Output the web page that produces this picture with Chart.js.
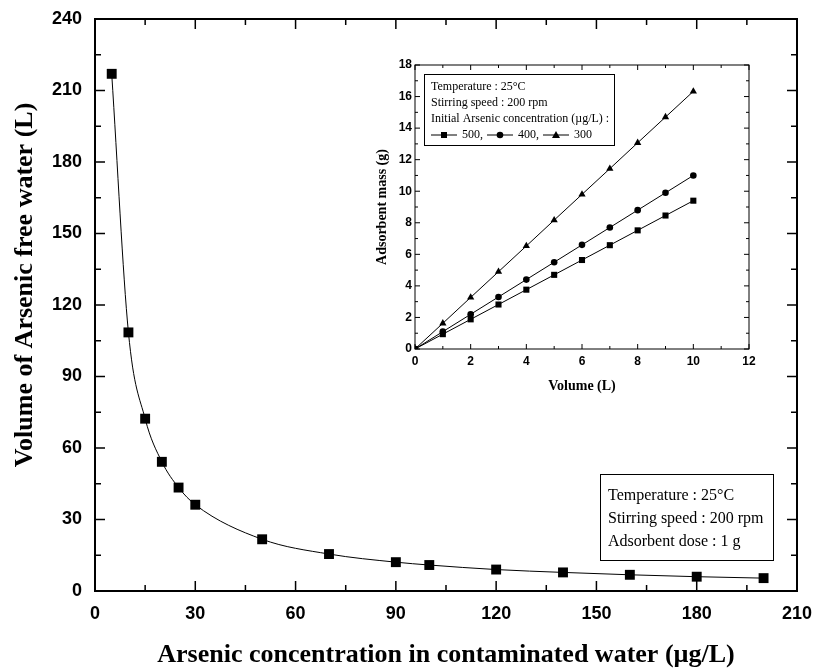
<!DOCTYPE html>
<html>
<head>
<meta charset="utf-8">
<script src="https://cdn.jsdelivr.net/npm/chart.js@4/dist/chart.umd.min.js"></script>
<style>
  body { margin: 0; background: #fff; }
  #wrap { position: relative; width: 814px; height: 668px; }
  #mainChart { position: absolute; left: 0; top: 0; }
  #insetChart { position: absolute; left: 340px; top: 40px; }
</style>
</head>
<body>
<div id="wrap">
  <canvas id="mainChart" width="814" height="668"></canvas>
  <canvas id="insetChart" width="440" height="370"></canvas>
</div>
<script>
// main plot: arsenic free water obtained per gram of adsorbent
const concentration = [5, 10, 15, 20, 25, 30, 50, 70, 90, 100, 120, 140, 160, 180, 200];
const freeWater = [217, 108.5, 72.3, 54.2, 43.4, 36.2, 21.7, 15.5, 12.1, 10.9, 9.0, 7.8, 6.8, 6.0, 5.4];

// inset: adsorbent mass needed vs treated volume
const volume = [0, 1, 2, 3, 4, 5, 6, 7, 8, 9, 10];
const mass500 = [0, 0.94, 1.88, 2.82, 3.76, 4.70, 5.64, 6.58, 7.52, 8.46, 9.40];
const mass400 = [0, 1.10, 2.20, 3.30, 4.40, 5.50, 6.60, 7.70, 8.80, 9.90, 11.0];
const mass300 = [0, 1.63, 3.27, 4.90, 6.53, 8.17, 9.80, 11.43, 13.07, 14.70, 16.33];

const mainXTicks = [0, 30, 60, 90, 120, 150, 180, 210];
const mainYTicks = [0, 30, 60, 90, 120, 150, 180, 210, 240];
const insetXTicks = [0, 2, 4, 6, 8, 10, 12];
const insetYTicks = [0, 2, 4, 6, 8, 10, 12, 14, 16, 18];

const mainXTitle = 'Arsenic concentration in contaminated water (µg/L)';
const mainYTitle = 'Volume of Arsenic free water (L)';
const mainNotes = ['Temperature : 25°C', 'Stirring speed : 200 rpm', 'Adsorbent dose : 1 g'];
const insetNotes = ['Temperature : 25°C', 'Stirring speed : 200 rpm', 'Initial Arsenic concentration (µg/L) :'];
const insetSeriesLabels = ['500,', '400,', '300'];
const insetSeriesStyles = ['rect', 'circle', 'triangle'];

const SANS = '"Liberation Sans", Arial, sans-serif';
const SERIF = '"Liberation Serif", "Times New Roman", serif';

function tickFont(size) {
    return { family: SANS, size: size, weight: 'bold' };
}

function titleFont(size) {
    return { family: SERIF, size: size, weight: 'bold', lineHeight: 1 };
}

function fixedTicks(values) {
    return (scale) => { scale.ticks = values.map(v => ({ value: v })); };
}

// pin the axis box size and drop the label overflow padding so the layout padding alone sets the plot area
function fixedSize(prop, size) {
    return (scale) => {
        scale[prop] = size;
        scale.paddingLeft = scale.paddingRight = scale.paddingTop = scale.paddingBottom = 0;
    };
}

// boxed frame with inward ticks on all four sides, majors longer than minors
function frameAndTicks(opts) {
    return {
        id: 'frameAndTicks',
        beforeDatasetsDraw(chart) {
            const { ctx, chartArea: a, scales: { x, y } } = chart;
            const isMajor = (v, step) => Math.abs(v / step - Math.round(v / step)) < 1e-6;
            ctx.save();
            ctx.strokeStyle = '#000';
            ctx.lineWidth = opts.tickWidth;
            ctx.beginPath();
            for (let v = x.min; v <= x.max + 1e-9; v += opts.xMinor) {
                const px = x.getPixelForValue(v);
                const len = isMajor(v, opts.xMajor) ? opts.majorLen : opts.minorLen;
                ctx.moveTo(px, a.bottom);
                ctx.lineTo(px, a.bottom - len);
                ctx.moveTo(px, a.top);
                ctx.lineTo(px, a.top + len);
            }
            for (let v = y.min; v <= y.max + 1e-9; v += opts.yMinor) {
                const py = y.getPixelForValue(v);
                const len = isMajor(v, opts.yMajor) ? opts.majorLen : opts.minorLen;
                ctx.moveTo(a.left, py);
                ctx.lineTo(a.left + len, py);
                ctx.moveTo(a.right, py);
                ctx.lineTo(a.right - len, py);
            }
            ctx.stroke();
            ctx.lineWidth = opts.frameWidth;
            ctx.strokeRect(a.left, a.top, a.right - a.left, a.bottom - a.top);
            ctx.restore();
        }
    };
}

// y title sits a little above the middle of the axis
const mainYTitleText = {
    id: 'mainYTitleText',
    afterDraw(chart) {
        const ctx = chart.ctx;
        ctx.save();
        ctx.translate(25, 285);
        ctx.rotate(-Math.PI / 2);
        ctx.fillStyle = '#000';
        ctx.font = 'bold 26px ' + SERIF;
        ctx.textAlign = 'center';
        ctx.textBaseline = 'middle';
        ctx.fillText(mainYTitle, 0, 0);
        ctx.restore();
    }
};

const mainNotesBox = {
    id: 'mainNotesBox',
    afterDraw(chart) {
        const ctx = chart.ctx;
        ctx.save();
        ctx.fillStyle = '#fff';
        ctx.fillRect(600, 474, 173, 86);
        ctx.strokeStyle = '#000';
        ctx.lineWidth = 1;
        ctx.strokeRect(600.5, 474.5, 173, 86);
        ctx.fillStyle = '#000';
        ctx.font = '16px ' + SERIF;
        ctx.textBaseline = 'middle';
        mainNotes.forEach((line, i) => ctx.fillText(line, 608, 496 + i * 23));
        ctx.restore();
    }
};

function drawMarker(ctx, style, x, y) {
    ctx.beginPath();
    if (style === 'rect') {
        ctx.rect(x - 3, y - 3, 6, 6);
    } else if (style === 'circle') {
        ctx.arc(x, y, 3.3, 0, Math.PI * 2);
    } else {
        ctx.moveTo(x, y - 4);
        ctx.lineTo(x + 4, y + 3);
        ctx.lineTo(x - 4, y + 3);
        ctx.closePath();
    }
    ctx.fill();
}

const insetNotesBox = {
    id: 'insetNotesBox',
    afterDraw(chart) {
        const ctx = chart.ctx;
        ctx.save();
        ctx.fillStyle = '#fff';
        ctx.fillRect(84, 34, 190, 71);
        ctx.strokeStyle = '#000';
        ctx.lineWidth = 1;
        ctx.strokeRect(84.5, 34.5, 190, 71);
        ctx.fillStyle = '#000';
        ctx.font = '12px ' + SERIF;
        ctx.textBaseline = 'middle';
        insetNotes.forEach((line, i) => ctx.fillText(line, 91, 47 + i * 16));

        // series key row: line-marker-line then label
        let x = 91;
        const rowY = 95;
        insetSeriesLabels.forEach((label, i) => {
            ctx.beginPath();
            ctx.moveTo(x, rowY);
            ctx.lineTo(x + 26, rowY);
            ctx.stroke();
            drawMarker(ctx, insetSeriesStyles[i], x + 13, rowY);
            ctx.fillText(label, x + 31, rowY);
            x += 31 + ctx.measureText(label).width + 4;
        });
        ctx.restore();
    }
};

const noGrid = { display: false, drawTicks: false };

new Chart(document.getElementById('mainChart'), {
    type: 'line',
    data: {
        datasets: [{
            data: concentration.map((c, i) => ({ x: c, y: freeWater[i] })),
            borderColor: '#000',
            borderWidth: 1,
            cubicInterpolationMode: 'monotone',
            pointStyle: 'rect',
            pointRadius: 7,
            pointBackgroundColor: '#000',
            pointBorderColor: '#000',
            pointBorderWidth: 0
        }]
    },
    options: {
        responsive: false,
        animation: false,
        layout: { padding: { top: 19, right: 17, left: 0, bottom: 0 } },
        plugins: { legend: { display: false }, tooltip: { enabled: false } },
        scales: {
            x: {
                type: 'linear', min: 0, max: 210,
                afterBuildTicks: fixedTicks(mainXTicks),
                afterFit: fixedSize('height', 77),
                grid: noGrid,
                border: { display: false },
                ticks: { color: '#000', font: tickFont(18), padding: 12, maxRotation: 0 },
                title: {
                    display: true, text: mainXTitle,
                    color: '#000', font: titleFont(26), padding: { top: 0, bottom: 0 }
                }
            },
            y: {
                type: 'linear', min: 0, max: 240,
                afterBuildTicks: fixedTicks(mainYTicks),
                afterFit: fixedSize('width', 95),
                grid: noGrid,
                border: { display: false },
                ticks: { color: '#000', font: tickFont(18), padding: 13 }
            }
        }
    },
    plugins: [
        frameAndTicks({ xMajor: 30, xMinor: 15, yMajor: 30, yMinor: 15, majorLen: 10, minorLen: 6, tickWidth: 1.5, frameWidth: 2 }),
        mainYTitleText,
        mainNotesBox
    ]
});

function insetSeries(values, style, radius) {
    return {
        data: volume.map((v, i) => ({ x: v, y: values[i] })),
        borderColor: '#000',
        borderWidth: 1,
        pointStyle: style,
        pointRadius: radius,
        pointBackgroundColor: '#000',
        pointBorderColor: '#000',
        pointBorderWidth: 0
    };
}

new Chart(document.getElementById('insetChart'), {
    type: 'line',
    data: {
        datasets: [
            insetSeries(mass500, 'rect', 4.3),
            insetSeries(mass400, 'circle', 3.3),
            insetSeries(mass300, 'triangle', 4.2)
        ]
    },
    options: {
        responsive: false,
        animation: false,
        layout: { padding: { top: 25, right: 31, left: 0, bottom: 0 } },
        plugins: { legend: { display: false }, tooltip: { enabled: false } },
        scales: {
            x: {
                type: 'linear', min: 0, max: 12,
                afterBuildTicks: fixedTicks(insetXTicks),
                afterFit: fixedSize('height', 61),
                grid: noGrid,
                border: { display: false },
                ticks: { color: '#000', font: tickFont(12), padding: 5, maxRotation: 0 },
                title: {
                    display: true, text: 'Volume (L)',
                    color: '#000', font: titleFont(14), padding: { top: 0, bottom: 17 }
                }
            },
            y: {
                type: 'linear', min: 0, max: 18,
                afterBuildTicks: fixedTicks(insetYTicks),
                afterFit: fixedSize('width', 75),
                grid: noGrid,
                border: { display: false },
                ticks: { color: '#000', font: tickFont(12), padding: 3 },
                title: {
                    display: true, text: 'Adsorbent mass (g)',
                    color: '#000', font: titleFont(14), padding: { top: 35, bottom: 0 }
                }
            }
        }
    },
    plugins: [
        frameAndTicks({ xMajor: 2, xMinor: 1, yMajor: 2, yMinor: 1, majorLen: 5, minorLen: 3, tickWidth: 1, frameWidth: 1 }),
        insetNotesBox
    ]
});
</script>
</body>
</html>
